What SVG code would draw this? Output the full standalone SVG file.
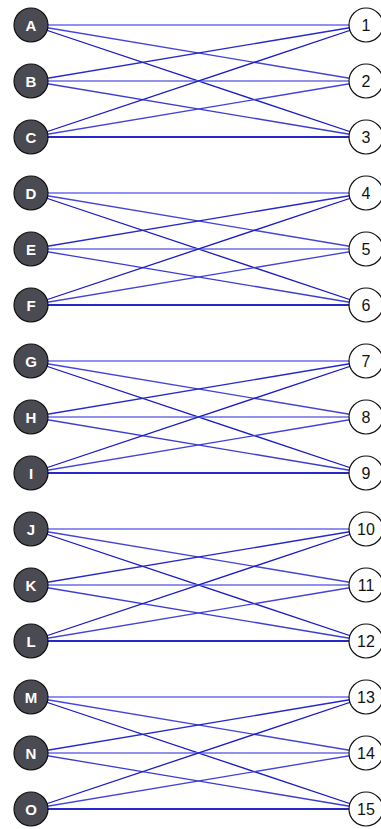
<svg xmlns="http://www.w3.org/2000/svg" width="381" height="829" viewBox="0 0 381 829">
<defs>
<style>
.e{fill:none;stroke-width:1.3}
.h{stroke-width:1.8}
.c1{stroke:#9090f2}
.c2{stroke:#4444d8}
.c3{stroke:#1a1ac4}
.c4{stroke:#2828c8}
.c5{stroke:#6c6ce6}
.c6{stroke:#3c3cd2}
.l circle{fill:#4a4b52;stroke:#111;stroke-width:1.2}
.l text{fill:#fff;font-family:"Liberation Sans",Arial,sans-serif;font-size:15px;font-weight:bold;text-anchor:middle}
.r circle{fill:#fff;stroke:#111;stroke-width:1.2}
.r text{fill:#111;font-family:"Liberation Sans",Arial,sans-serif;font-size:16px;text-anchor:middle}
</style>
<g id="grp">
<line class="e h c1" x1="31" y1="25" x2="366" y2="25"/>
<line class="e c2" x1="31" y1="25" x2="366" y2="81"/>
<line class="e c3" x1="31" y1="25" x2="366" y2="137"/>
<line class="e c4" x1="31" y1="81" x2="366" y2="25"/>
<line class="e c5" x1="31" y1="81" x2="366" y2="81"/>
<line class="e c6" x1="31" y1="81" x2="366" y2="137"/>
<line class="e c3" x1="31" y1="137" x2="366" y2="25"/>
<line class="e c2" x1="31" y1="137" x2="366" y2="81"/>
<line class="e h c4" x1="31" y1="137" x2="366" y2="137"/>
</g>
</defs>
<g id="connectors">
<use href="#grp"/>
<use href="#grp" y="168"/>
<use href="#grp" y="336"/>
<use href="#grp" y="504"/>
<use href="#grp" y="672"/>
</g>
<g id="A" class="l"><circle cx="31" cy="25" r="17"/><text x="31" y="30.5">A</text></g>
<g id="B" class="l"><circle cx="31" cy="81" r="17"/><text x="31" y="86.5">B</text></g>
<g id="C" class="l"><circle cx="31" cy="137" r="17"/><text x="31" y="142.5">C</text></g>
<g id="D" class="l"><circle cx="31" cy="193" r="17"/><text x="31" y="198.5">D</text></g>
<g id="E" class="l"><circle cx="31" cy="249" r="17"/><text x="31" y="254.5">E</text></g>
<g id="F" class="l"><circle cx="31" cy="305" r="17"/><text x="31" y="310.5">F</text></g>
<g id="G" class="l"><circle cx="31" cy="361" r="17"/><text x="31" y="366.5">G</text></g>
<g id="H" class="l"><circle cx="31" cy="417" r="17"/><text x="31" y="422.5">H</text></g>
<g id="I" class="l"><circle cx="31" cy="473" r="17"/><text x="31" y="478.5">I</text></g>
<g id="J" class="l"><circle cx="31" cy="529" r="17"/><text x="31" y="534.5">J</text></g>
<g id="K" class="l"><circle cx="31" cy="585" r="17"/><text x="31" y="590.5">K</text></g>
<g id="L" class="l"><circle cx="31" cy="641" r="17"/><text x="31" y="646.5">L</text></g>
<g id="M" class="l"><circle cx="31" cy="697" r="17"/><text x="31" y="702.5">M</text></g>
<g id="N" class="l"><circle cx="31" cy="753" r="17"/><text x="31" y="758.5">N</text></g>
<g id="O" class="l"><circle cx="31" cy="809" r="17"/><text x="31" y="814.5">O</text></g>
<g id="n1" class="r"><circle cx="366" cy="25" r="17"/><text x="366" y="31">1</text></g>
<g id="n2" class="r"><circle cx="366" cy="81" r="17"/><text x="366" y="87">2</text></g>
<g id="n3" class="r"><circle cx="366" cy="137" r="17"/><text x="366" y="143">3</text></g>
<g id="n4" class="r"><circle cx="366" cy="193" r="17"/><text x="366" y="199">4</text></g>
<g id="n5" class="r"><circle cx="366" cy="249" r="17"/><text x="366" y="255">5</text></g>
<g id="n6" class="r"><circle cx="366" cy="305" r="17"/><text x="366" y="311">6</text></g>
<g id="n7" class="r"><circle cx="366" cy="361" r="17"/><text x="366" y="367">7</text></g>
<g id="n8" class="r"><circle cx="366" cy="417" r="17"/><text x="366" y="423">8</text></g>
<g id="n9" class="r"><circle cx="366" cy="473" r="17"/><text x="366" y="479">9</text></g>
<g id="n10" class="r"><circle cx="366" cy="529" r="17"/><text x="366" y="535">10</text></g>
<g id="n11" class="r"><circle cx="366" cy="585" r="17"/><text x="366" y="591">11</text></g>
<g id="n12" class="r"><circle cx="366" cy="641" r="17"/><text x="366" y="647">12</text></g>
<g id="n13" class="r"><circle cx="366" cy="697" r="17"/><text x="366" y="703">13</text></g>
<g id="n14" class="r"><circle cx="366" cy="753" r="17"/><text x="366" y="759">14</text></g>
<g id="n15" class="r"><circle cx="366" cy="809" r="17"/><text x="366" y="815">15</text></g>
</svg>
